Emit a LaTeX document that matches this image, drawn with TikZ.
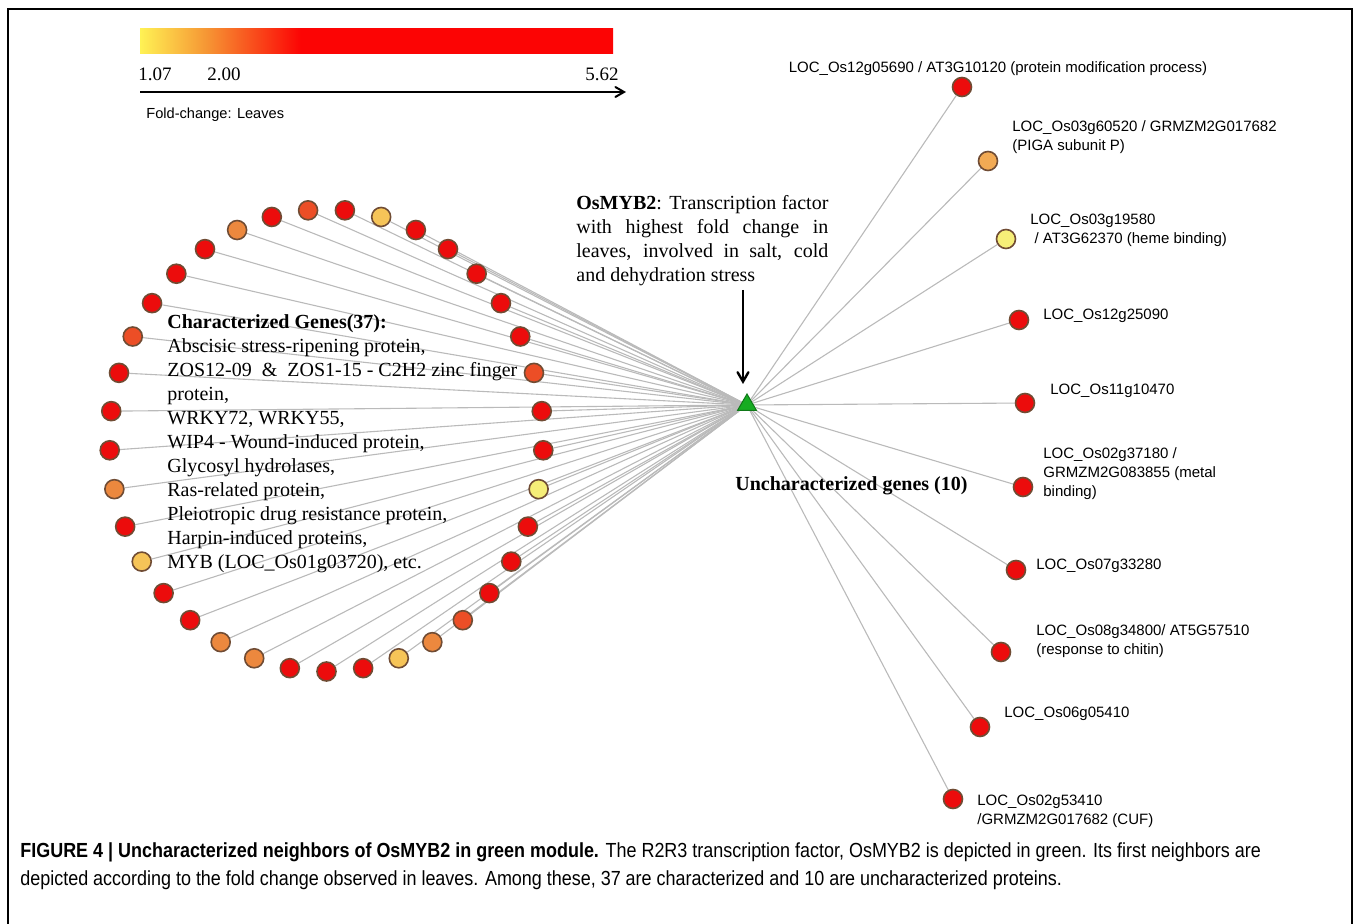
\documentclass[tikz,border=0pt]{standalone}
\usepackage{fontspec}
\setmainfont{Liberation Serif}
\newfontfamily\labelfont{Liberation Sans}
\newfontfamily\captionfont[FakeStretch=0.88]{Liberation Sans}
\usepackage{tikz}
\usetikzlibrary{positioning}
\usetikzlibrary{arrows,shapes}
\usetikzlibrary{calc,backgrounds}
\definecolor{fcred}{RGB}{236,12,12}
\definecolor{fcorangered}{RGB}{236,78,38}
\definecolor{fcorange}{RGB}{236,136,62}
\definecolor{fclightorange}{RGB}{242,170,84}
\definecolor{fcyelloworange}{RGB}{246,196,88}
\definecolor{fcyellow}{RGB}{246,238,120}
\definecolor{fcrim}{RGB}{112,76,52}
\definecolor{edgegray}{RGB}{186,186,186}
\definecolor{mybgreen}{RGB}{22,172,34}
\definecolor{barred}{RGB}{252,4,4}
\definecolor{barorange}{RGB}{246,150,52}
\definecolor{baryellow}{RGB}{255,242,84}
\pgfdeclarehorizontalshading{foldbar}{100bp}{color(0bp)=(baryellow); color(25bp)=(baryellow); color(32bp)=(barorange); color(42bp)=(barred); color(75bp)=(barred); color(100bp)=(barred)}
\tikzstyle{genevertex}=[circle,draw=fcrim,line width=0.8pt,minimum size=9.5pt,inner sep=0pt]
\tikzstyle{hubvertex}=[regular polygon,regular polygon sides=3,fill=mybgreen,draw=mybgreen!70!black,line width=0.5pt,minimum size=11pt,inner sep=0pt]
\tikzstyle{undirectededge} = [draw,edgegray,line width=0.55pt]
\tikzstyle{pointer} = [draw,-angle 60,line width=1pt]
\tikzstyle{genelabel} = [font=\labelfont\fontsize{7.5}{9.5}\selectfont,align=left,anchor=west,inner sep=0pt]
\tikzstyle{listtext} = [font=\fontsize{10}{12}\selectfont,inner sep=0pt]

\begin{document}
\begin{tikzpicture}[x=0.5pt,y=-0.5pt]
\useasboundingbox (0,0) rectangle (1357,924);
\draw[line width=1pt] (8,924) -- (8,9) -- (1352,9) -- (1352,924);

    % Legend: colour bar and axis
    \shade[shading=foldbar] (140,29) rectangle (613,54);
    \node[font=\fontsize{9.5}{11}\selectfont, anchor=base west, inner sep=0pt] (v107) at (138,81) {1.07};
    \node[font=\fontsize{9.5}{11}\selectfont, anchor=base west, inner sep=0pt] (v200) at (207,81) {2.00};
    \node[font=\fontsize{9.5}{11}\selectfont, anchor=base east, inner sep=0pt] (v562) at (619,81) {5.62};
    \coordinate (axisstart) at (140,92);
    \coordinate (axisend) at (626,92);
    \draw[pointer] (axisstart) -- (axisend);
    \node[font=\labelfont\fontsize{7.3}{9}\selectfont, anchor=west, inner sep=0pt] (foldlabel) at (146,115) {Fold-change: Leaves};

    % The hub: OsMYB2
    \node[hubvertex] (myb) at (747,405) {};

    % First we draw the characterized vertices on a ring
    \def\cx{326.5};
    \def\cy{440.5};
    \foreach \k/\col in {0/fcred, 1/fcred, 2/fcyelloworange, 3/fcorange, 4/fcorangered, 5/fcred, 6/fcred, 7/fcred, 8/fcyellow, 9/fcred, 10/fcred, 11/fcorangered, 12/fcred, 13/fcred, 14/fcred, 15/fcred, 16/fcred, 17/fcyelloworange, 18/fcred, 19/fcorangered, 20/fcred, 21/fcorange, 22/fcred, 23/fcred, 24/fcred, 25/fcorangered, 26/fcred, 27/fcred, 28/fcred, 29/fcorange, 30/fcred, 31/fcyelloworange, 32/fcred, 33/fcred, 34/fcorange, 35/fcorange, 36/fcred}
        \node[genevertex, fill=\col] (c\k) at ({\cx+217*cos(-90+\k*360/37)}, {\cy-231*sin(-90+\k*360/37)}) {};

    % Then the uncharacterized vertices
    \foreach \pos/\name/\col in {{(962,87)/u1/fcred}, {(988,161)/u2/fclightorange}, {(1006,239)/u3/fcyellow}, {(1019,320)/u4/fcred}, {(1025,403)/u5/fcred}, {(1023,487)/u6/fcred}, {(1016,570)/u7/fcred}, {(1001,652)/u8/fcred}, {(980,727)/u9/fcred}, {(953,799)/u10/fcred}}
        \node[genevertex, fill=\col] (\name) at \pos {};

    % Connect vertices with edges
    \begin{pgfonlayer}{background}
    \foreach \k in {0,...,36}
        \path[undirectededge] (c\k) -- (myb);
    \foreach \dest in {u1,u2,u3,u4,u5,u6,u7,u8,u9,u10}
        \path[undirectededge] (myb) -- (\dest);
    \end{pgfonlayer}

    % Labels of the uncharacterized genes
    \node[genelabel, anchor=base] (t1) at (998,73) {LOC\_Os12g05690 / AT3G10120 (protein modification process)};
    \node[genelabel] (t2) at (1012,137.5) {LOC\_Os03g60520 / GRMZM2G017682\\(PIGA subunit P)};
    \node[genelabel] (t3) at (1030,230) {LOC\_Os03g19580\\\ / AT3G62370 (heme binding)};
    \node[genelabel] (t4) at (1043,316) {LOC\_Os12g25090};
    \node[genelabel] (t5) at (1050,391) {LOC\_Os11g10470};
    \node[genelabel] (t6) at (1043,474) {LOC\_Os02g37180 /\\GRMZM2G083855 (metal\\binding)};
    \node[genelabel] (t7) at (1036,566) {LOC\_Os07g33280};
    \node[genelabel] (t8) at (1036,641.5) {LOC\_Os08g34800/ AT5G57510\\(response to chitin)};
    \node[genelabel] (t9) at (1004,714) {LOC\_Os06g05410};
    \node[genelabel] (t10) at (977,811.5) {LOC\_Os02g53410\\/GRMZM2G017682 (CUF)};

    % Group texts
    \node[listtext, align=left, anchor=north west] (charlist) at (167,314) {\textbf{Characterized Genes(37):}\\Abscisic stress-ripening protein,\\ZOS12-09 \ \& \ ZOS1-15 - C2H2 zinc finger\\protein,\\WRKY72, WRKY55,\\WIP4 - Wound-induced protein,\\Glycosyl hydrolases,\\Ras-related protein,\\Pleiotropic drug resistance protein,\\Harpin-induced proteins,\\MYB (LOC\_Os01g03720), etc.};
    \node[listtext, text width=126pt, align=justify, anchor=north west] (mybnote) at (576,195) {\textbf{OsMYB2}: Transcription factor\linebreak with highest fold change in\linebreak leaves, involved in salt, cold\linebreak and dehydration stress};
    \node[font=\bfseries\fontsize{10}{12}\selectfont, anchor=west, inner sep=0pt] (unchar) at (735,486) {Uncharacterized genes (10)};
    \coordinate (arrowtop) at (743,290);
    \draw[pointer, line width=1.2pt, shorten >=4.5pt] (arrowtop) -- (arrowtop |- myb.north);

    % Caption
    \node[font=\captionfont\fontsize{10.2}{14}\selectfont, align=left, anchor=north west, inner sep=0pt] (caption) at (20,842) {\textbf{FIGURE 4 | Uncharacterized neighbors of OsMYB2 in green module.} The R2R3 transcription factor, OsMYB2 is depicted in green. Its first neighbors are\\depicted according to the fold change observed in leaves. Among these, 37 are characterized and 10 are uncharacterized proteins.};
\end{tikzpicture}
\end{document}
